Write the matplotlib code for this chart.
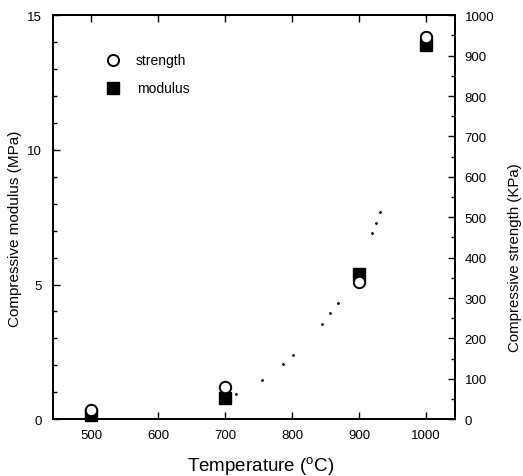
import matplotlib
matplotlib.use("Agg")
import matplotlib.pyplot as plt
from matplotlib.ticker import MultipleLocator

plt.rcParams['font.family'] = ['Liberation Sans', 'DejaVu Sans']
plt.rcParams['mathtext.fontset'] = 'custom'
plt.rcParams['mathtext.rm'] = 'Liberation Sans'

# data
temperature = [500, 700, 900, 1000]
modulus_mpa = [0.15, 0.78, 5.4, 13.9]
strength_kpa = [22, 79, 340, 945]

# faint dotted trace in the plot (left-axis units)
trace_t = [716, 755, 787, 802, 845, 857, 868, 919, 925, 931]
trace_y = [0.93, 1.46, 2.05, 2.37, 3.54, 3.94, 4.33, 6.91, 7.29, 7.69]

fig = plt.figure(figsize=(5.23, 4.77), dpi=100)
ax = fig.add_axes([0.101, 0.119, 0.769, 0.847])
ax2 = ax.twinx()

ax.plot(trace_t, trace_y, ls='none', marker='.', ms=2, color='black')
ax.plot(temperature, modulus_mpa, ls='none', marker='s', ms=8.2,
        color='black', clip_on=False, zorder=3)
ax2.plot(temperature, strength_kpa, ls='none', marker='o', ms=8.2,
         mfc='white', mec='black', mew=1.4, clip_on=False, zorder=4)

ax.set_xlim(443, 1043)
ax.set_ylim(0, 15)
ax2.set_ylim(0, 1000)

ax.xaxis.set_major_locator(MultipleLocator(100))
ax.yaxis.set_major_locator(MultipleLocator(5))
ax.yaxis.set_minor_locator(MultipleLocator(1))
ax2.yaxis.set_major_locator(MultipleLocator(100))
ax2.yaxis.set_minor_locator(MultipleLocator(50))

ax.tick_params(axis='x', which='both', direction='in', top=True, length=5,
               width=1, labelsize=9.5, pad=7)
ax.tick_params(axis='y', which='major', direction='in', right=False,
               length=5, width=1, labelsize=9.5, pad=8)
ax.tick_params(axis='y', which='minor', direction='in', right=False,
               length=3, width=1)
ax2.tick_params(axis='y', which='major', direction='in', length=5,
                width=1, labelsize=9.5, pad=7)
ax2.tick_params(axis='y', which='minor', direction='in', length=3, width=1)

for a in (ax, ax2):
    for s in a.spines.values():
        s.set_linewidth(1.3)

ax.set_xlabel('Temperature ($^\\mathrm{o}$C)', fontsize=13.5)
ax.xaxis.set_label_coords(0.517, -0.088)
ax.set_ylabel('Compressive modulus (MPa)', fontsize=11)
ax.yaxis.set_label_coords(-0.077, 0.475)
ax2.set_ylabel('Compressive strength (KPa)', fontsize=10.8)
ax2.yaxis.set_label_coords(1.132, 0.403)

# legend drawn as in the original figure
ax.plot([0.15], [0.89], transform=ax.transAxes, marker='o', ms=8,
        mfc='white', mec='black', mew=1.4, ls='none')
ax.plot([0.15], [0.82], transform=ax.transAxes, marker='s', ms=8,
        color='black', ls='none')
ax.text(0.205, 0.89, 'strength', transform=ax.transAxes, fontsize=10,
        va='center')
ax.text(0.21, 0.82, 'modulus', transform=ax.transAxes, fontsize=10,
        va='center')

fig.savefig('out.png', dpi=100)
